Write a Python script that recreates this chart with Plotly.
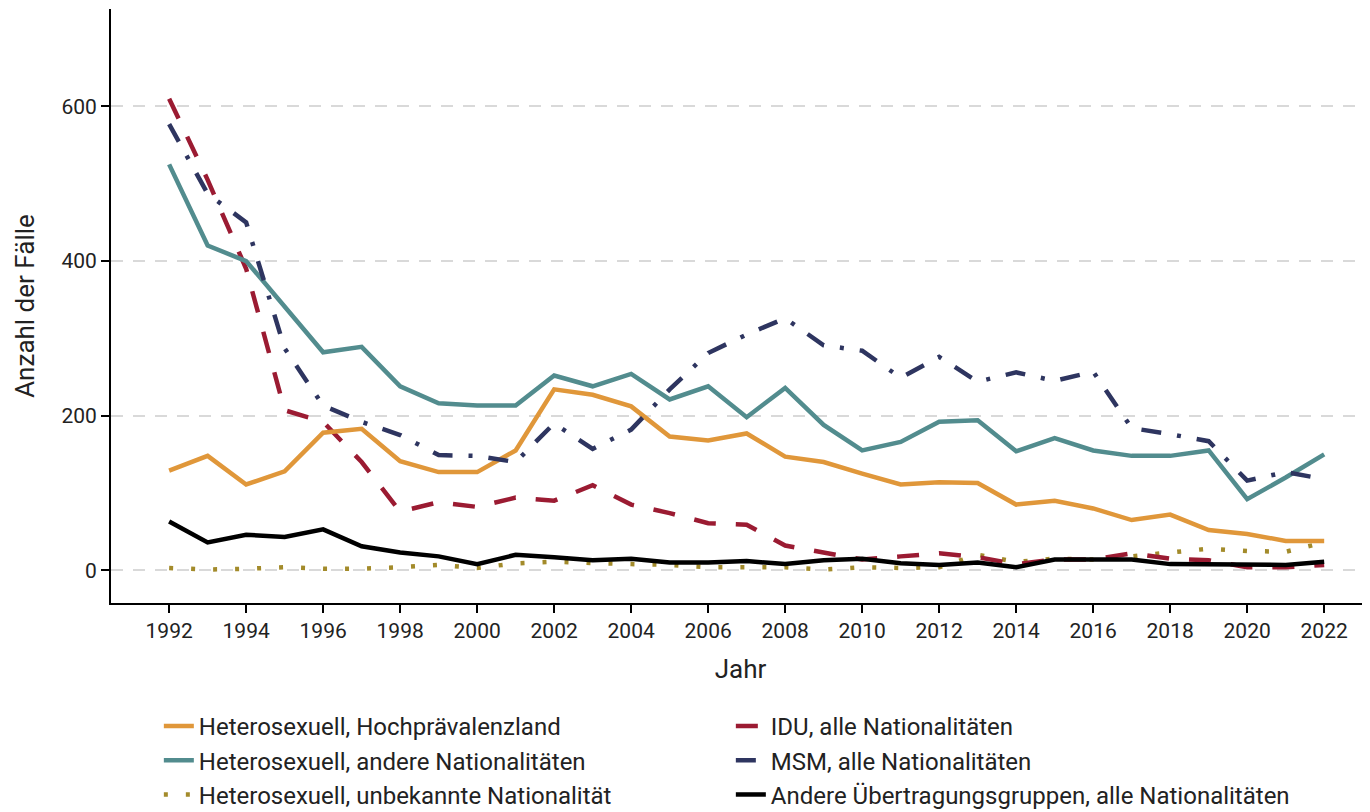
import plotly.graph_objects as go

jahre = list(range(1992, 2023))

hetero_hoch = [129, 148, 111, 128, 178, 183, 141, 127, 127, 155, 234, 227, 212, 173, 168, 177,
               147, 140, 125, 111, 114, 113, 85, 90, 80, 65, 72, 52, 47, 38, 38]
hetero_andere = [525, 420, 400, 341, 282, 289, 238, 216, 213, 213, 252, 238, 254, 221, 238, 198,
                 236, 188, 155, 166, 192, 194, 154, 171, 155, 148, 148, 155, 92, 120, 150]
hetero_unbek = [3, 1, 2, 4, 2, 2, 4, 7, 3, 9, 11, 9, 8, 7, 4, 4,
                4, 1, 4, 3, 4, 20, 11, 15, 14, 18, 23, 28, 25, 24, 36]
idu = [610, 505, 390, 207, 192, 140, 76, 88, 82, 94, 90, 110, 85, 74, 61, 59,
       32, 23, 14, 18, 22, 17, 8, 14, 14, 22, 15, 13, 4, 4, 7]
msm = [577, 487, 450, 287, 213, 192, 175, 149, 148, 140, 190, 157, 182, 234, 281, 305,
       326, 291, 284, 249, 276, 244, 256, 245, 257, 184, 176, 167, 116, 127, 118]
andere = [63, 36, 46, 43, 53, 31, 23, 18, 8, 20, 17, 13, 15, 10, 10, 12,
          8, 13, 15, 9, 7, 10, 4, 14, 14, 14, 8, 8, 7, 7, 11]

namen = ["Heterosexuell, Hochprävalenzland", "Heterosexuell, andere Nationalitäten",
         "Heterosexuell, unbekannte Nationalität", "IDU, alle Nationalitäten",
         "MSM, alle Nationalitäten", "Andere Übertragungsgruppen, alle Nationalitäten"]

# Zeichenreihenfolge; die Legende wird zeilenweise gefüllt, daher legendrank
serien = [
    (hetero_unbek, namen[2], "#A38B2B", "4px,18px"),
    (idu, namen[3], "#9B1B32", "22px,20px"),
    (hetero_hoch, namen[0], "#E0973A", "solid"),
    (hetero_andere, namen[1], "#528C8E", "solid"),
    (msm, namen[4], "#2E3560", "20px,16px,4px,16px"),
    (andere, namen[5], "#000000", "solid"),
]
rang = {namen[0]: 1, namen[3]: 2, namen[1]: 3, namen[4]: 4, namen[2]: 5, namen[5]: 6}

fig = go.Figure()
for werte, name, farbe, dash in serien:
    fig.add_trace(go.Scatter(
        x=jahre, y=werte, name=name, mode="lines",
        line=dict(color=farbe, width=4.5, dash=dash),
        legendrank=rang[name],
    ))

# Seite hat 8px Rand (body margin), daher 1362x804
fig.update_layout(
    width=1362, height=804,
    plot_bgcolor="white", paper_bgcolor="white",
    margin=dict(l=103, r=0, t=1, b=209, autoexpand=False),
    font=dict(family="Roboto, sans-serif", size=26, color="#222222"),
    showlegend=True,
    legend=dict(
        orientation="h", x=0.038, xanchor="left", y=-0.17, yanchor="top",
        entrywidth=527, font=dict(size=24, color="#222222"),
        traceorder="normal", itemwidth=30,
    ),
    xaxis=dict(
        range=[1990.49, 2023.19], tick0=1992, dtick=2,
        showgrid=False, zeroline=False, automargin=False,
        showline=True, linecolor="black", linewidth=2,
        ticks="outside", ticklen=8, tickwidth=2, tickcolor="black",
        tickfont=dict(size=21, color="#222222"),
        title=dict(text="Jahr", font=dict(size=26), standoff=18),
    ),
    yaxis=dict(
        range=[-42.3, 726], tickvals=[0, 200, 400, 600],
        showgrid=True, gridcolor="#d9d9d9", gridwidth=1.5, griddash="12px,10px",
        zeroline=False, automargin=False,
        showline=True, linecolor="black", linewidth=2,
        ticks="outside", ticklen=8, tickwidth=2, tickcolor="black",
        tickfont=dict(size=21, color="#222222"),
        title=dict(text="Anzahl der Fälle", font=dict(size=26), standoff=19),
    ),
)

fig.write_html("out.html")
